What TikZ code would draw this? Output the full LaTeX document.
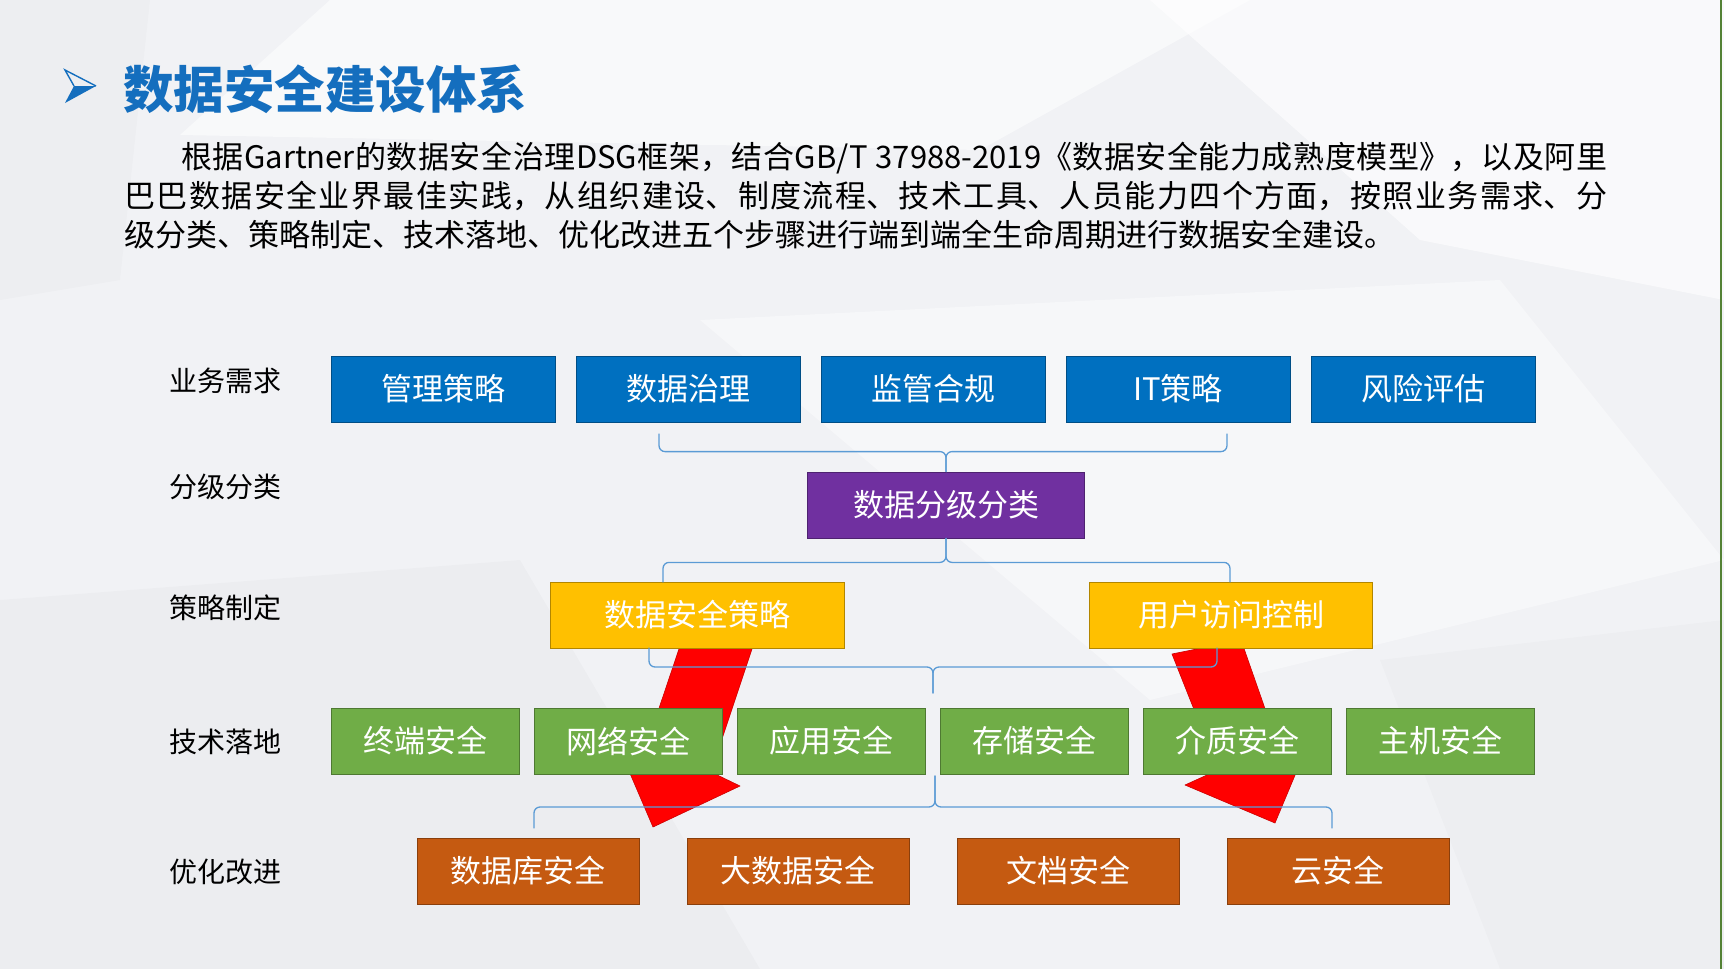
\documentclass[tikz,border=0pt]{standalone}
\usepackage{fontspec}
\setmainfont{Noto Sans CJK SC}
\usetikzlibrary{calc}
\XeTeXlinebreaklocale "zh"
\XeTeXlinebreakskip=0pt plus 2pt minus 1pt

\begin{document}
\begin{tikzpicture}[x=1pt,y=-1pt,
  stagebox/.style={draw=#1!70!black, fill=#1, line width=0.8pt, inner sep=0pt,
    minimum height=66pt, text=white, font=\fontsize{31}{36}\selectfont},
  stagename/.style={inner sep=0pt, text=black, font=\fontsize{28}{32}\selectfont},
  bracketline/.style={draw=bracket_blue, line width=1.3pt, rounded corners=6pt, line cap=round},
  redarrow/.style={fill=red, draw=red!80!black, line width=0.6pt, line join=round}]
%\draw[gray] (0,0) grid[step=100] (1724,969);

\definecolor{bg_fill}{RGB}{241,242,245}
\definecolor{title_blue}{RGB}{20,110,190}
\definecolor{need_fill}{RGB}{0,112,192}
\definecolor{class_fill}{RGB}{112,48,160}
\definecolor{policy_fill}{RGB}{255,192,0}
\definecolor{tech_fill}{RGB}{112,173,71}
\definecolor{improve_fill}{RGB}{197,90,17}
\definecolor{bracket_blue}{RGB}{91,155,213}
\definecolor{edge_green}{RGB}{84,130,53}

\useasboundingbox (0,0) rectangle (1724,969);

% background
\fill[bg_fill] (0,0) rectangle (1724,969);
\fill[white,opacity=0.55] (330,0) -- (1250,0) -- (980,150) -- (180,135) -- cycle;
\fill[white,opacity=0.6] (1150,0) -- (1724,0) -- (1724,300) -- (1420,240) -- cycle;
\fill[white,opacity=0.4] (700,320) -- (1500,280) -- (1724,560) -- (1150,700) -- cycle;
\fill[black,opacity=0.02] (0,600) -- (520,560) -- (760,969) -- (0,969) -- cycle;
\fill[black,opacity=0.015] (0,0) -- (150,0) -- (120,280) -- (0,300) -- cycle;
\fill[black,opacity=0.015] (1380,660) -- (1724,620) -- (1724,969) -- (1500,969) -- cycle;
\draw[edge_green, line width=2pt] (1721,0) -- (1721,969);

% title
\fill[title_blue] (74,86) -- (96,86) -- (65,103) -- cycle;
\draw[title_blue, line width=1.4pt, line join=miter] (74,86) -- (65,70) -- (96,86);
\node[anchor=west, inner sep=0pt, text=title_blue, font=\fontsize{50.5}{58}\selectfont\bfseries] (title) at (123,89) {数据安全建设体系};

\node[anchor=north west, inner sep=0pt, text width=1483pt, align=justify,
  font=\fontsize{31}{39}\selectfont] (intro) at (124,142)
  {\hspace*{57pt}根据Gartner的数据安全治理DSG框架，结合GB/T 37988-2019《数据安全能力成熟度模型》，以及阿里\linebreak
   巴巴数据安全业界最佳实践，从组织建设、制度流程、技术工具、人员能力四个方面，按照业务需求、分\linebreak
   级分类、策略制定、技术落地、优化改进五个步骤进行端到端全生命周期进行数据安全建设。};

% row names
\foreach \y/\name [count=\i] in {381/业务需求,487/分级分类,608/策略制定,742/技术落地,872/优化改进}{
\node[stagename] (stage\i) at (225,\y) {\name};
}

% red arrows (behind the boxes)
\draw[redarrow] (682,640) -- (755,640) -- (711,772) -- (740,786) -- (653,827) -- (608,722) -- (648,741) -- cycle;
\draw[redarrow] (1172,654) -- (1241,640) -- (1277,743) -- (1316,725) -- (1275,823) -- (1185,785) -- (1218,770) -- cycle;

% boxes
\foreach \name [count=\i] in {管理策略,数据治理,监管合规,IT策略,风险评估}{
\node[stagebox=need_fill, minimum width=224pt] (need\i) at ({443+245*(\i-1)},389) {\name};
}
\node[stagebox=class_fill, minimum width=277pt] (grade) at (946,505) {数据分级分类};
\node[stagebox=policy_fill, minimum width=294pt] (policy1) at (697,615) {数据安全策略};
\node[stagebox=policy_fill, minimum width=283pt] (policy2) at (1231,615) {用户访问控制};
\foreach \name [count=\i] in {终端安全,网络安全,应用安全,存储安全,介质安全,主机安全}{
\node[stagebox=tech_fill, minimum width=188pt] (tech\i) at ({425+203*(\i-1)},741) {\name};
}
\foreach \name [count=\i] in {数据库安全,大数据安全,文档安全,云安全}{
\node[stagebox=improve_fill, minimum width=222pt] (improve\i) at ({528+270*(\i-1)},871) {\name};
}

% brackets
\coordinate (b1l) at (659,434);
\coordinate (b1r) at (1227,434);
\coordinate (b1m) at ($(grade.north)+(0,-20)$);
\draw[bracketline] (b1l) |- (b1m) -- (grade.north);
\draw[bracketline] (b1r) |- (b1m) -- (grade.north);

\coordinate (b2l) at (663,582);
\coordinate (b2r) at (1230,582);
\coordinate (b2m) at ($(grade.south)+(0,24)$);
\draw[bracketline] (grade.south) -- (b2m) -| (b2l);
\draw[bracketline] (grade.south) -- (b2m) -| (b2r);

\coordinate (b3l) at (649,648);
\coordinate (b3r) at (1217,648);
\coordinate (b3m) at (933,667);
\coordinate (b3e) at (933,693);
\draw[bracketline] (b3l) |- (b3m) -- (b3e);
\draw[bracketline] (b3r) |- (b3m) -- (b3e);

\coordinate (b4s) at (935,776);
\coordinate (b4m) at (935,807);
\coordinate (b4l) at (534,828);
\coordinate (b4r) at (1332,828);
\draw[bracketline] (b4s) -- (b4m) -| (b4l);
\draw[bracketline] (b4s) -- (b4m) -| (b4r);

\end{tikzpicture}
\end{document}
